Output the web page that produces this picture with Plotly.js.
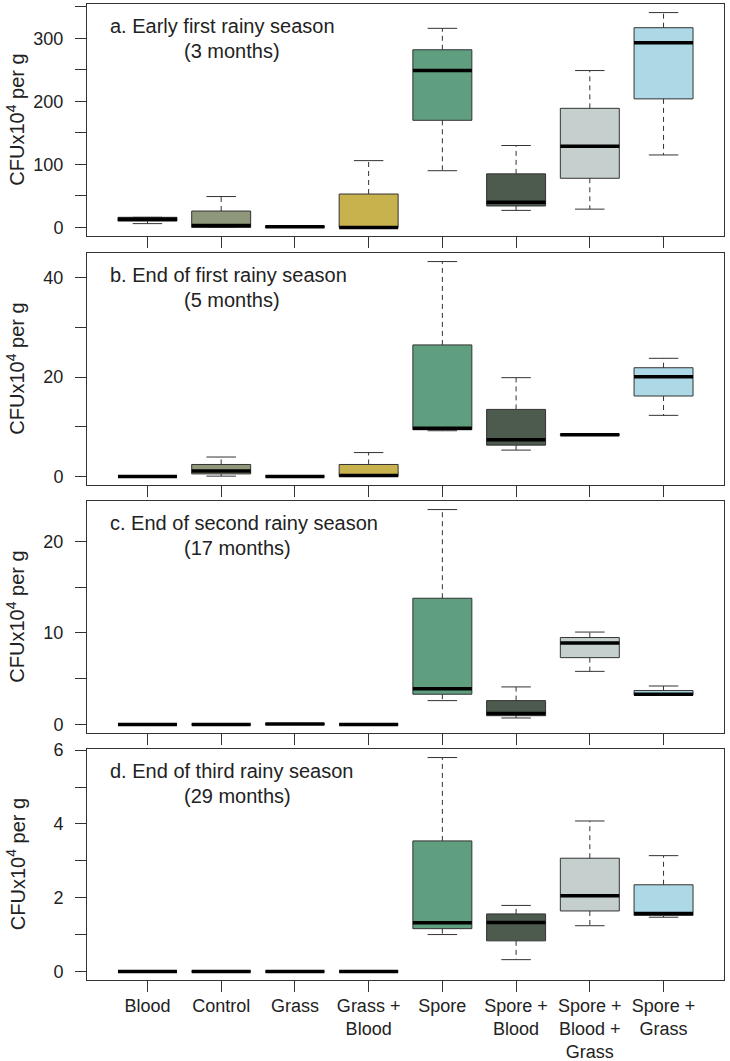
<!DOCTYPE html>
<html>
<head>
<meta charset="utf-8">
<script src="https://cdn.plot.ly/plotly-3.0.1.min.js"></script>
<style>
  body { margin: 0; background: #fff; }
  #chart { width: 730px; height: 1061px; }
</style>
</head>
<body>
<div id="chart"></div>
<script>
// treatments, left to right
var categories = ['Blood', 'Control', 'Grass', 'Grass +<br>Blood', 'Spore',
                  'Spore +<br>Blood', 'Spore +<br>Blood +<br>Grass', 'Spore +<br>Grass'];
var boxColors = ['#6b1f1f', '#8f977a', '#6f8f5a', '#c8b24e', '#5f9e7e', '#4d5a4e', '#c4cfce', '#add8e6'];

// a. early first rainy season (3 months)
var aLower  = [6, 0, 0, 0, 90, 27, 29, 115];
var aQ1     = [10, 0, 0, 0, 170, 34, 78, 204];
var aMedian = [13, 3, 1, 0, 249, 40, 129, 293];
var aQ3     = [16, 26, 2, 53, 282, 85, 189, 317];
var aUpper  = [16, 49, 3, 106, 316, 130, 249, 341];

// b. end of first rainy season (5 months)
var bLower  = [0, 0.05, 0, 0, 9.2, 5.3, 8.3, 12.3];
var bQ1     = [0, 0.5, 0, 0, 9.4, 6.3, 8.3, 16.2];
var bMedian = [0, 1.1, 0, 0.2, 9.7, 7.4, 8.4, 20.1];
var bQ3     = [0, 2.4, 0, 2.4, 26.5, 13.5, 8.5, 21.9];
var bUpper  = [0, 3.9, 0, 4.8, 43.3, 19.9, 8.6, 23.8];

// c. end of second rainy season (17 months)
var cLower  = [0, 0, 0, 0, 2.6, 0.7, 5.8, 3.2];
var cQ1     = [0, 0, 0, 0, 3.3, 0.95, 7.3, 3.2];
var cMedian = [0, 0, 0.05, 0, 3.9, 1.2, 8.9, 3.3];
var cQ3     = [0, 0, 0.1, 0, 13.8, 2.6, 9.5, 3.7];
var cUpper  = [0, 0, 0.1, 0, 23.5, 4.1, 10.1, 4.2];

// d. end of third rainy season (29 months)
var dLower  = [0, 0, 0, 0, 1.0, 0.32, 1.24, 1.47];
var dQ1     = [0, 0, 0, 0, 1.16, 0.83, 1.64, 1.52];
var dMedian = [0, 0, 0, 0, 1.32, 1.33, 2.05, 1.57];
var dQ3     = [0, 0, 0, 0, 3.54, 1.56, 3.07, 2.35];
var dUpper  = [0, 0, 0, 0, 5.8, 1.79, 4.08, 3.14];

var panels = [
  {lower: aLower, q1: aQ1, med: aMedian, q3: aQ3, upper: aUpper,
   title: 'a. Early first rainy season', sub: '(3 months)', step: 50, dom: [0.7623, 1]},
  {lower: bLower, q1: bQ1, med: bMedian, q3: bQ3, upper: bUpper,
   title: 'b. End of first rainy season', sub: '(5 months)', step: 10, dom: [0.5072, 0.7449]},
  {lower: cLower, q1: cQ1, med: cMedian, q3: cQ3, upper: cUpper,
   title: 'c. End of second rainy season', sub: '(17 months)', step: 5, dom: [0.2531, 0.4908]},
  {lower: dLower, q1: dQ1, med: dMedian, q3: dQ3, upper: dUpper,
   title: 'd. End of third rainy season', sub: '(29 months)', step: 1, dom: [0, 0.2367]}
];

var font = 'Arial, "Liberation Sans", sans-serif';
var ink = '#333';
var boxW = 0.8, capW = 0.4;
var idx = categories.map(function (c, i) { return i; });

var data = [];
var layout = {
  width: 730, height: 1061,
  margin: {l: 87, r: 6, t: 4, b: 81},
  paper_bgcolor: '#fff', plot_bgcolor: '#fff',
  showlegend: false,
  font: {family: font, size: 18, color: '#222'},
  annotations: []
};

panels.forEach(function (p, k) {
  var n = k === 0 ? '' : String(k + 1);
  var xa = 'x' + n, ya = 'y' + n;

  // boxes
  data.push({
    type: 'bar', xaxis: xa, yaxis: ya,
    x: idx, base: p.q1,
    y: p.q3.map(function (v, i) { return v - p.q1[i]; }),
    width: boxW,
    marker: {color: boxColors, line: {color: ink, width: 1}},
    hoverinfo: 'skip'
  });

  // dashed whiskers
  var wx = [], wy = [];
  idx.forEach(function (i) {
    wx.push(i, i, null, i, i, null);
    wy.push(p.q3[i], p.upper[i], null, p.q1[i], p.lower[i], null);
  });
  data.push({type: 'scatter', mode: 'lines', xaxis: xa, yaxis: ya, x: wx, y: wy,
             line: {color: ink, width: 1, dash: '5px,4px'}, hoverinfo: 'skip'});

  // caps
  var cx = [], cy = [];
  idx.forEach(function (i) {
    cx.push(i - capW / 2, i + capW / 2, null, i - capW / 2, i + capW / 2, null);
    cy.push(p.upper[i], p.upper[i], null, p.lower[i], p.lower[i], null);
  });
  data.push({type: 'scatter', mode: 'lines', xaxis: xa, yaxis: ya, x: cx, y: cy,
             line: {color: ink, width: 1}, hoverinfo: 'skip'});

  // medians
  var mx = [], my = [];
  idx.forEach(function (i) {
    mx.push(i - boxW / 2, i + boxW / 2, null);
    my.push(p.med[i], p.med[i], null);
  });
  data.push({type: 'scatter', mode: 'lines', xaxis: xa, yaxis: ya, x: mx, y: my,
             line: {color: '#000', width: 3.5}, hoverinfo: 'skip'});

  // y range like R: data range padded by 4%
  var lo = Math.min.apply(null, p.lower), hi = Math.max.apply(null, p.upper);
  var pad = (hi - lo) * 0.04;

  layout['xaxis' + n] = {
    anchor: ya, domain: [0, 1], range: [-0.82, 7.82],
    tickmode: 'array', tickvals: idx, ticktext: categories, showticklabels: k === 3,
    ticks: 'outside', ticklen: 11, tickcolor: ink, tickwidth: 1,
    ticklabelstandoff: -2,
    showline: true, linecolor: ink, linewidth: 1, mirror: true,
    showgrid: false, zeroline: false,
    tickfont: {family: font, size: 18, color: '#222'}
  };
  layout['yaxis' + n] = {
    anchor: xa, domain: p.dom, range: [lo - pad, hi + pad],
    tickmode: 'linear', tick0: 0, dtick: 2 * p.step,
    ticks: 'outside', ticklen: 11, tickcolor: ink, tickwidth: 1,
    minor: {dtick: p.step, ticks: 'outside', ticklen: 11, tickcolor: ink, tickwidth: 1, showgrid: false},
    ticklabelstandoff: 8,
    showline: true, linecolor: ink, linewidth: 1, mirror: true,
    showgrid: false, zeroline: false,
    tickfont: {family: font, size: 18, color: '#222'}
  };

  layout.annotations.push(
    {xref: xa, yref: ya + ' domain', x: -0.54, y: 1, xanchor: 'left', yanchor: 'middle',
     yshift: -22, showarrow: false, text: p.title, font: {family: font, size: 20, color: '#222'}},
    {xref: xa, yref: ya + ' domain', x: 0.47, y: 1, xanchor: 'left', yanchor: 'middle',
     yshift: -47, showarrow: false, text: p.sub, font: {family: font, size: 20, color: '#222'}},
    {xref: 'paper', yref: ya + ' domain', x: -0.112, y: 0.5, xanchor: 'center', yanchor: 'middle',
     textangle: -90, showarrow: false, text: 'CFUx10<sup>4</sup> per g',
     font: {family: font, size: 20, color: '#222'}}
  );
});

Plotly.newPlot('chart', data, layout, {staticPlot: true});
</script>
</body>
</html>
